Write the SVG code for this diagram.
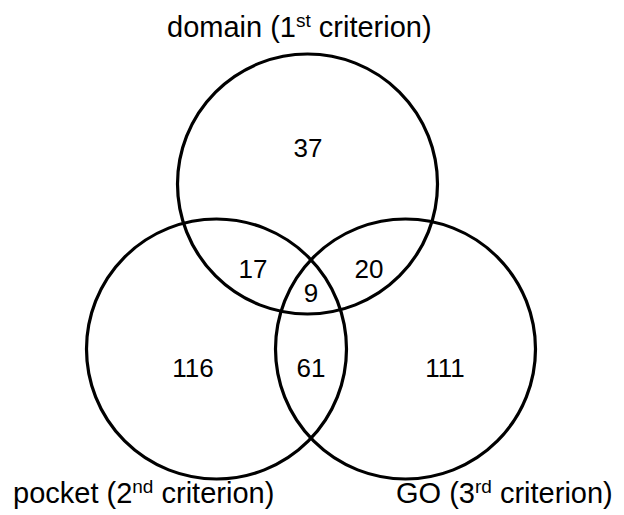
<svg xmlns="http://www.w3.org/2000/svg" width="624" height="515" viewBox="0 0 624 515">
  <style>
    .set { fill: none; stroke: #000; stroke-width: 3.2; }
    .lbl { font-family: "Liberation Sans", Arial, sans-serif; font-size: 29px; fill: #000; }
    .sup { font-size: 19px; }
    .num { font-family: "Liberation Sans", Arial, sans-serif; font-size: 26px; fill: #000; text-anchor: middle; }
  </style>
  <rect width="624" height="515" fill="#fff"/>

  <!-- set outlines -->
  <g id="domain">
    <circle class="set" cx="307.5" cy="184" r="130"/>
  </g>
  <g id="pocket">
    <circle class="set" cx="216.5" cy="349" r="130"/>
  </g>
  <g id="go">
    <circle class="set" cx="405.5" cy="349" r="130"/>
  </g>

  <!-- set titles -->
  <g id="titles">
    <text class="lbl" x="167" y="37">domain (1<tspan class="sup" dy="-10">st</tspan><tspan dy="10"> criterion)</tspan></text>
    <text class="lbl" x="13" y="503">pocket (2<tspan class="sup" dy="-10">nd</tspan><tspan dy="10"> criterion)</tspan></text>
    <text class="lbl" x="396" y="503">GO (3<tspan class="sup" dy="-10">rd</tspan><tspan dy="10"> criterion)</tspan></text>
  </g>

  <!-- region counts -->
  <g id="counts">
    <text class="num" x="308" y="157">37</text>
    <text class="num" x="253" y="278">17</text>
    <text class="num" x="369" y="278">20</text>
    <text class="num" x="311" y="302">9</text>
    <text class="num" x="193" y="377">116</text>
    <text class="num" x="311" y="377">61</text>
    <text class="num" x="445" y="377">111</text>
  </g>
</svg>
